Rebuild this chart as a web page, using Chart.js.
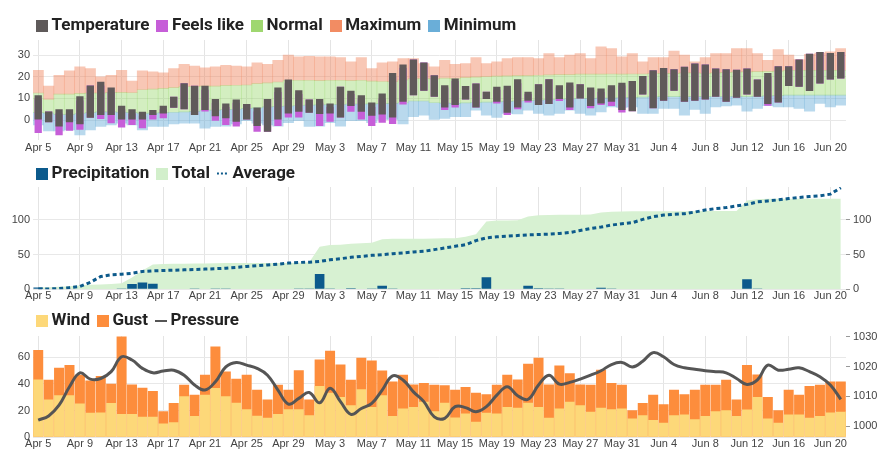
<!DOCTYPE html>
<html>
<head>
<meta charset="utf-8">
<script src="https://cdn.jsdelivr.net/npm/chart.js@4.4.1/dist/chart.umd.min.js"></script>
<style>
  body { margin: 0; background: #fff; }
  canvas { display: block; }
</style>
</head>
<body>
<canvas id="tempChart" width="885" height="158"></canvas>
<canvas id="rainChart" width="885" height="147"></canvas>
<canvas id="windChart" width="885" height="156"></canvas>
<script>
// days shown on the x axis (Apr 5 - Jun 21)
const days = [
  'Apr 5','Apr 6','Apr 7','Apr 8','Apr 9','Apr 10','Apr 11','Apr 12','Apr 13','Apr 14',
  'Apr 15','Apr 16','Apr 17','Apr 18','Apr 19','Apr 20','Apr 21','Apr 22','Apr 23','Apr 24',
  'Apr 25','Apr 26','Apr 27','Apr 28','Apr 29','Apr 30',
  'May 1','May 2','May 3','May 4','May 5','May 6','May 7','May 8','May 9','May 10',
  'May 11','May 12','May 13','May 14','May 15','May 16','May 17','May 18','May 19','May 20',
  'May 21','May 22','May 23','May 24','May 25','May 26','May 27','May 28','May 29','May 30','May 31',
  'Jun 1','Jun 2','Jun 3','Jun 4','Jun 5','Jun 6','Jun 7','Jun 8','Jun 9','Jun 10',
  'Jun 11','Jun 12','Jun 13','Jun 14','Jun 15','Jun 16','Jun 17','Jun 18','Jun 19','Jun 20','Jun 21'
];
const tickDays = ['Apr 5','Apr 9','Apr 13','Apr 17','Apr 21','Apr 25','Apr 29','May 3','May 7','May 11',
  'May 15','May 19','May 23','May 27','May 31','Jun 4','Jun 8','Jun 12','Jun 16','Jun 20'];

// temperature panel
const tempHigh = [11.5,4,5,5,11,16,17.7,15,6.6,5, 3.8,4.6,6.6,10.8,17,15.8,15.8,9.7,7.7,9.5,
  7.4,5.8,9.7,15,18.7,13.8,9.5,9.7,7.7,15.4, 13.5,11.5,8.1,12.3,21.8,25.7,28,26.6,20.7,16.1,
  19.2,15.7,16.9,13.1,15.4,15.8,18.9,13.1,16.6,18.9, 16.1,17.4,16.6,15,14.6,16.1,17.2,18.1,20.3,23,
  24.1,23.5,24.6,26.1,25.7,23.8,23.5,23.3,23.8,18.7, 21.8,24.9,24.9,28,30.7,31.5,31,31.5];
const tempLow = [0,-1,-3,-1,-2,1,2.3,2.3,0,0, 0.3,2.3,3,5.7,5,2.3,4.6,1.8,0.8,-0.8,
  0.3,-2.8,-5.4,0.3,3,3.8,3.4,2.8,3,1.2, 6.5,3.8,2,2.6,1.2,8.4,11.5,13.5,10.8,5.8,
  6.9,9.5,5.8,9.7,8.4,3.4,5.8,8.9,6.9,7.4, 9.7,5.8,10,6.5,7.7,8.4,4.6,4.1,11.8,5.4,
  8.9,13.5,8.4,8.9,9.5,10.8,8.4,10.3,11.8,10.8, 7.4,8.1,15.7,15.4,13.4,16.9,18.7,19.2];
const feelsHigh = [10,4,3,3,9,16,16,13,5,3, 2,3,5,10.8,17,15.8,14,8,6,8,
  7.4,4,9.7,13,17,12,9.5,8,6,15.4, 12,10,6,10,20,24,28,26.6,20.7,15,
  18,15.7,16.9,13.1,14,14,17,12,16.6,18.9, 15,16,16.6,14,13,15,16,18.1,20.3,23,
  24.1,23.5,24.6,26.1,25.7,23.8,23.5,23.3,23.8,18.7, 20,24.9,24.9,28,30.7,31.5,31,31.5];
const feelsLow = [-6,-1,-7,-5,-4.5,1,0.5,-1.5,-3.4,-2.3, -3.8,0.3,0.8,5.7,5,2.3,4,-0.3,-2.3,-3,
  0.3,-5.4,-5.4,-2.8,1.2,1.2,3.4,-2.8,-0.8,1.2, 3.8,0.3,-2.8,-1.2,-1.8,7.2,11.5,13.5,10.8,4.6,
  5.8,9.5,5.8,9.7,7.7,2.3,5,8.1,6.9,7.4, 8.8,4.6,10,5.4,6.9,6.5,3.5,4.1,11.8,5.4,
  8.9,13.5,8.4,8.9,9.5,10.8,8.4,10.3,11.8,10.8, 6.6,8.1,15.7,15.4,13.4,16.9,18.7,19.2];
const recordHigh = [23,15.7,20.7,22.7,24.6,23.8,20,20.7,23,18, 22.7,22.3,21.8,23.8,25.7,24.9,24.1,24.6,25.3,25,
  24.6,26.4,25.8,27.6,30,29.2,29.5,29.2,29.2,28.9, 26.9,28.9,23.8,26.4,26.9,28.4,28.4,26.1,24.6,27.6,
  25.8,26.1,28.9,26.1,26.9,28.4,28.9,28.9,28.4,30.7, 28.9,30,30.7,28.4,33.8,33,29.2,30.7,26.9,28.9,
  28.9,31.9,30,26.9,28.9,30.7,30.7,33,33,30.7, 27.6,32.6,30,28,30.4,31,31.5,33];
const normalHigh = [12.5,9.5,12,12,12.3,12.5,12.5,12.8,12.8,12.6, 14,14.3,14.6,15,15.5,15.5,15.7,15.7,16,16.1,
  16.2,16.8,17.2,17.6,18.4,18.4,18.4,18.2,18.4,18.4, 18.2,18.4,18,17.8,17.7,18.5,19.2,19.2,19,19.4,
  19.2,19.6,19.8,20,20.3,20.4,20.5,20.5,20.7,20.9, 21,21,21.2,21.2,21.2,21.3,21.2,21.3,21.3,21.5,
  21.6,21.6,21.8,21.8,21.5,21.8,22,22.2,22.3,22.4, 22.5,22.6,23,23,23,23,23,23];
const normalLow = [3.4,3.2,2.5,2.5,3,3.4,3.8,3.8,3.6,3.4, 3,3.2,3.4,3.6,3.8,4,4.6,4.6,4.8,5,
  5.4,5.6,6.1,6.3,6.5,6.7,6.9,7,7.2,7.2, 7.4,7.4,7.5,7.6,7.7,8,8.8,8.8,8,7.8,
  7.7,7.9,8.1,8.3,8.4,8.6,8.8,9,9.2,9.4, 9.6,9.8,10,10,10.1,10.2,10.4,10.5,10.6,10.7,
  10.8,10.8,10.8,10.8,10.8,10.9,10.9,11,10.8,11, 11.2,11.3,11.5,11.5,11.5,11.5,11.5,11.5];
const recordLow = [-2.3,-5,-5,-4.6,-6.9,-4.6,-3,-2.3,-1.5,-2.3, -4.6,-3,-3,-1.8,-1.5,-1.5,-3.8,-3,-2.8,-1.8,
  -0.3,-1.5,-2.3,-2.8,-1.2,-0.3,-3,-2.8,-1.2,-2.8, -0.3,-0.3,-1.2,0.3,0.3,-1.8,1.5,2.3,0.3,0.8,
  1.5,1.5,4.6,2.3,1.2,3.1,2.8,4.6,3.1,2.3, 3.1,4.6,3.1,2.3,3.8,6.1,5.8,6.1,3.1,3.1,
  5.4,5.4,2.3,4.9,3.1,6.1,6.5,6.9,4.1,5.4, 6.6,6.1,6.1,5.4,4.1,7.7,6.1,6.9];

// precipitation panel
const precipitation = [2.5,0,0,0,0,0,0,0,1,7.7, 9.7,8,0.8,0,0,0.3,0,0.5,0.5,0,
  0,0,0,0,0,0.5,0.5,22,1,0, 1.5,0,0.5,5,0.3,0,0,0,0,0,
  0,1.5,1.5,17.4,0.8,0,0,5,1.5,0.3, 0.3,0,0,0,2.4,0.5,0,0,0,0,
  0,0,0,0,0,0,0,0,14.5,1, 0,0,0,0,0,0,0,0];
const total = [2.5,3,3.5,4.5,5.5,6.5,7,7.5,8.7,17, 27,35.5,36.5,36.7,36.8,37,37,37.4,37.8,37.8,
  37.8,37.8,37.8,37.8,37.8,38.3,38.8,61,63.5,64, 65.5,66,67,72,72.5,72.5,72.5,72.8,73,73.2,
  73.5,75.5,79,97.5,99,99,99.2,104.5,106.5,106.8, 107,107,107.2,107.5,110.5,111.5,111.8,112,112,112,
  112.2,112.2,112.3,112.3,112.4,112.4,112.5,112.5,127.5,129.5, 130,130,130,130,130,130,130,130];
const average = [0.5,0.5,1,2.4,4,10,18.4,20.8,21.7,23, 25.6,26.6,27,27.4,28,28.5,29,29.6,30.4,31.5,
  32.9,34,35,36.2,37.7,38.6,39,40,42.5,44, 45.9,47.3,48.8,49.8,51.2,52.2,53.6,54.6,57,59.4,
  61.8,64,70,74,75.4,76.3,77.3,78.3,78.7,79.2, 80.2,81.6,84.5,87.4,89.4,92.3,94.2,95.7,100.5,104.3,
  106.8,107.7,108.7,111,114,116,117.4,119.8,122,125.6, 127,128.5,130.4,132,133.3,134.3,136.7,146];

// wind panel
const wind = [43.4,28.3,31.5,31.5,25.3,18.4,18.6,25.8,17.4,17.4, 15.4,15.4,10.4,11.2,30.8,15.9,32,37,30.8,26,
  21.1,16.1,14.6,17.4,21.1,21.1,16.6,38.5,33.5,30.3, 24.1,36,22.8,31.5,15.9,21.6,22.8,26.6,19.6,26,
  14.9,17.9,11.7,18.4,17.9,22.8,22.1,26,22.8,14.6, 21.6,26.6,24.1,19.1,22.1,21.1,21.6,14.1,16.6,12.9,
  10.9,16.6,17.1,13.6,15.9,19.6,20.3,15.9,20.8,30.3, 14.1,10.9,17.1,17.1,14.6,15.9,18.6,19.1];
const gust = [65.5,43.2,52.1,54.3,46.9,42.7,45.9,40.2,75.7,39.7, 37.2,34.7,19.6,25.8,39.5,32,46.9,68.2,49.4,43.9,
  46.9,35.7,28.3,39.5,35.7,50.3,28.3,58.3,65,54.6, 43.2,59.6,57.6,50.1,41.9,46.9,39.7,40.7,39.5,39,
  35.7,37.7,33.5,32.3,39.5,46.9,43.4,55.1,59.6,39.7, 53.8,48.1,39.7,39.5,50.6,40.7,39.5,20.3,25.8,32,
  24.8,35.7,32.3,35.7,39.5,39.5,43.2,28.3,54.3,47.1, 30.3,20.3,35.7,32,38.5,39.5,41.9,41.9];
const pressure = [1002,1003.4,1007,1013.2,1017.9,1015.8,1016,1018.3,1023.3,1022.2,
  1019.4,1017.9,1018.5,1018.8,1017.1,1013.8,1012.1,1014.9,1019.9,1021.4,
  1020.5,1019.4,1017.1,1012.1,1007.4,1009.3,1011.3,1007.8,1012.7,1008.2,
  1003.9,1005.9,1007.6,1012.1,1016.9,1015.5,1011.5,1008.2,1003.1,1002.6,
  1006.5,1006.2,1004.8,1006.5,1010.4,1013.2,1010.2,1009,1013.8,1017.1,
  1014.1,1014.7,1015.8,1017.1,1018.6,1020.7,1021.4,1019.9,1021.8,1024.7,
  1023.3,1020.7,1019.6,1019.1,1018.6,1018.3,1017.9,1016,1014,1015.5,
  1020.5,1018.8,1019.1,1019.6,1018.3,1016.6,1013.8,1009];

Chart.defaults.font.family = "'Liberation Sans', Arial, sans-serif";
Chart.defaults.color = '#444';

// [low, high] pairs for floating bars
function pairs(lo, hi) {
  return lo.map((v, i) => [v, hi[i]]);
}

// small legend marker drawn on its own canvas
function swatch(color, line, dash) {
  const c = document.createElement('canvas');
  c.width = 12;
  c.height = 12;
  const g = c.getContext('2d');
  if (line) {
    g.strokeStyle = color;
    g.lineWidth = 2;
    g.setLineDash(dash || []);
    g.beginPath();
    g.moveTo(0, 6);
    g.lineTo(12, 6);
    g.stroke();
  } else {
    g.fillStyle = color;
    g.fillRect(0, 0, 12, 12);
  }
  return c;
}

// puts the legend where the original has it
const legendShift = {
  id: 'legendShift',
  afterLayout(chart, args, opts) {
    chart.legend.left = opts.x;
    chart.legend.top = opts.y;
  }
};

function legendOpts() {
  return {
    align: 'start',
    maxHeight: 28,
    labels: {
      usePointStyle: true, pointStyleWidth: 2, boxHeight: 12, padding: 12,
      color: '#222', font: { family: 'Roboto', size: 17, weight: 'bold' },
      generateLabels: chart => chart.data.datasets.map((ds, i) => ({
        text: ds.label,
        datasetIndex: i,
        pointStyle: swatch(ds.legendColor, ds.legendLine, ds.legendDash),
        fillStyle: ds.legendColor,
        lineWidth: 0,
        fontColor: '#222',
        hidden: false
      }))
    }
  };
}

function xAxis(pad) {
  return {
    offset: true,
    grid: { offset: false, color: '#e4e4e4', drawTicks: false },
    border: { display: false },
    ticks: {
      autoSkip: false, maxRotation: 0, minRotation: 0, padding: pad,
      font: { size: 11 },
      callback: function (v) {
        const lab = this.getLabelForValue(v);
        return tickDays.includes(lab) ? lab : null;
      }
    }
  };
}

function leftAxis(min, max, step) {
  return {
    min: min, max: max,
    grid: { color: '#e8e8e8', drawTicks: false },
    border: { display: false },
    ticks: { stepSize: step, includeBounds: false, padding: 3, font: { size: 11 } },
    afterFit: s => { s.width = 33; }
  };
}

function rightAxis(min, max, step) {
  return {
    position: 'right',
    min: min, max: max,
    grid: { drawOnChartArea: false, drawTicks: true, tickLength: 4, color: '#999' },
    border: { display: false },
    ticks: { stepSize: step, includeBounds: false, padding: 3, font: { size: 11 }, callback: v => String(v) },
    afterFit: s => { s.width = 39; }
  };
}

// 温度
new Chart(document.getElementById('tempChart'), {
  type: 'bar',
  data: {
    labels: days,
    datasets: [
      { label: 'Temperature', data: pairs(tempLow, tempHigh), backgroundColor: '#605a5a',
        legendColor: '#5f5a5a', grouped: false, barPercentage: 0.7, categoryPercentage: 1 },
      { label: 'Feels like', data: pairs(feelsLow, feelsHigh), backgroundColor: '#c65ed8',
        legendColor: '#c65ed8', grouped: false, barPercentage: 0.7, categoryPercentage: 1 },
      { label: 'Normal', data: pairs(normalLow, normalHigh), backgroundColor: 'rgba(140,210,90,0.38)',
        legendColor: '#9fd770', grouped: false, barPercentage: 1, categoryPercentage: 1 },
      { label: 'Maximum', data: pairs(normalHigh, recordHigh), backgroundColor: 'rgba(240,130,90,0.45)',
        legendColor: '#f28c63', grouped: false, barPercentage: 1, categoryPercentage: 1 },
      { label: 'Minimum', data: pairs(recordLow, normalLow), backgroundColor: 'rgba(100,170,215,0.45)',
        legendColor: '#6aaed8', grouped: false, barPercentage: 1, categoryPercentage: 1 }
    ]
  },
  options: {
    responsive: false, animation: false, events: [],
    layout: { padding: { top: 12, right: 39, bottom: 1.3, left: 0 } },
    plugins: { legend: legendOpts(), tooltip: { enabled: false }, legendShift: { x: 29, y: 5 } },
    scales: { x: xAxis(2), y: leftAxis(-9, 37, 10) }
  },
  plugins: [legendShift]
});

// 降水
new Chart(document.getElementById('rainChart'), {
  type: 'bar',
  data: {
    labels: days,
    datasets: [
      { label: 'Precipitation', data: precipitation, backgroundColor: '#0c5a8c', legendColor: '#0c5a8c',
        barPercentage: 0.92, categoryPercentage: 1, order: 1 },
      { label: 'Total', type: 'line', data: total, fill: 'origin', backgroundColor: '#d7f1d2',
        legendColor: '#d2efcb', borderWidth: 0, pointRadius: 0, order: 2 },
      { label: 'Average', type: 'line', data: average, borderColor: '#0d5a8b', borderWidth: 3,
        borderDash: [4, 3], fill: false, pointRadius: 0, order: 0,
        legendColor: '#0d5a8b', legendLine: true, legendDash: [2, 2] }
    ]
  },
  options: {
    responsive: false, animation: false, events: [],
    layout: { padding: { top: 1, right: 0, bottom: 2.5, left: 0 } },
    plugins: { legend: legendOpts(), tooltip: { enabled: false }, legendShift: { x: 29, y: -5 } },
    scales: { x: xAxis(0), y: leftAxis(0, 147, 50), y2: rightAxis(0, 147, 50) }
  },
  plugins: [legendShift]
});

// 风和气压
new Chart(document.getElementById('windChart'), {
  type: 'bar',
  data: {
    labels: days,
    datasets: [
      { label: 'Wind', data: wind, backgroundColor: '#fdd879', legendColor: '#fdd879',
        grouped: false, barPercentage: 0.96, categoryPercentage: 1, order: 1 },
      { label: 'Gust', data: gust, backgroundColor: '#fd8d3c', legendColor: '#fd8d3c',
        grouped: false, barPercentage: 0.96, categoryPercentage: 1, order: 2 },
      { label: 'Pressure', type: 'line', data: pressure, yAxisID: 'y2', borderColor: '#555',
        borderWidth: 3, tension: 0.4, pointRadius: 0, fill: false, order: 0,
        legendColor: '#555', legendLine: true }
    ]
  },
  options: {
    responsive: false, animation: false, events: [],
    layout: { padding: { top: 3, right: 0, bottom: 10.5, left: 0 } },
    plugins: { legend: legendOpts(), tooltip: { enabled: false }, legendShift: { x: 29, y: -4.5 } },
    scales: { x: xAxis(0), y: leftAxis(0, 76, 20), y2: rightAxis(996.2, 1030.3, 10) }
  },
  plugins: [legendShift]
});
</script>
</body>
</html>
